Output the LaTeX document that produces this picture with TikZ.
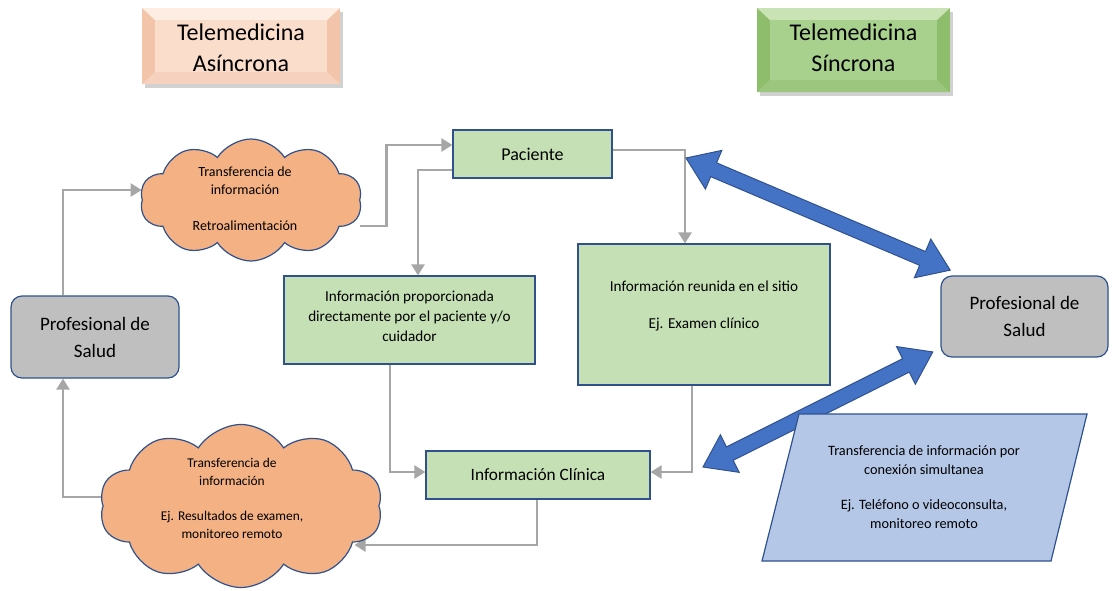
\documentclass[tikz,border=0pt]{standalone}
\usepackage{fontspec}
\setmainfont{Carlito}
\usetikzlibrary{shapes.symbols,shapes.geometric,arrows.meta,backgrounds}
\definecolor{bordblue}{HTML}{2F528F}
\definecolor{boxgreen}{HTML}{C5E0B4}
\definecolor{cloudor}{HTML}{F4B183}
\definecolor{profgray}{HTML}{BFBFBF}
\definecolor{parblue}{HTML}{B4C7E7}
\definecolor{bigblue}{HTML}{4472C4}
\definecolor{arrgray}{HTML}{A6A6A6}
\definecolor{peachS}{HTML}{F2C4AA}
\definecolor{peachT}{HTML}{FDEDE3}
\definecolor{peachB}{HTML}{F6D2BE}
\definecolor{peachC}{HTML}{FADDCB}
\definecolor{greenS}{HTML}{8EBD6C}
\definecolor{greenT}{HTML}{C9E3B5}
\definecolor{greenB}{HTML}{9CC67E}
\definecolor{greenC}{HTML}{A9D18E}
\tikzset{
  gbox/.style={draw=bordblue, line width=1.2pt, fill=boxgreen, rectangle, inner sep=0pt},
  prof/.style={draw=bordblue, line width=1.2pt, fill=profgray, rectangle, rounded corners=11pt, inner sep=0pt, align=center, font=\fontsize{19}{27}\selectfont},
  cloudbox/.style={draw=bordblue, line width=1.2pt, fill=cloudor, cloud, cloud puffs=10, cloud puff arc=115, cloud ignores aspect, inner sep=0pt},
  small/.style={align=center, font=\fontsize{14}{18}\selectfont, inner sep=0pt},
  titletext/.style={align=center, font=\fontsize{24}{31}\selectfont, inner sep=0pt},
  garrow/.style={draw=arrgray, line width=2.5pt, -{Triangle[length=11pt,width=13pt]}},
  bigarrow/.style={draw=bordblue, line width=1pt, fill=bigblue}
}
\begin{document}
\begin{tikzpicture}[x=1pt,y=-1pt]
\useasboundingbox (0,0) rectangle (1112,590);

% Title boxes
\fill[black!40, opacity=.45] (145,12) rectangle (343,88);
\fill[peachS] (142,8) rectangle (340,84);
\fill[peachT] (142,8) -- (340,8) -- (327,20) -- (155,20) -- cycle;
\fill[peachB] (142,84) -- (340,84) -- (327,72) -- (155,72) -- cycle;
\fill[peachC] (155,20) rectangle (327,72);
\node[titletext] (t1) at (241,48) {Telemedicina\\Asíncrona};

\fill[black!40, opacity=.45] (760,12) rectangle (953,96);
\fill[greenS] (757,8) rectangle (950,92);
\fill[greenT] (757,8) -- (950,8) -- (937,20) -- (770,20) -- cycle;
\fill[greenB] (757,92) -- (950,92) -- (937,80) -- (770,80) -- cycle;
\fill[greenC] (770,20) rectangle (937,80);
\node[titletext] (t2) at (853.5,48) {Telemedicina\\Síncrona};

% Nodes
\node[prof, minimum width=168pt, minimum height=82pt] (profL) at (95,337) {Profesional de\\Salud};
\node[prof, minimum width=167pt, minimum height=81pt] (profR) at (1024.5,316.5) {Profesional de\\Salud};
\node[gbox, minimum width=159pt, minimum height=48pt, font=\fontsize{18}{20}\selectfont] (pac) at (532.5,154) {Paciente};
\node[gbox, minimum width=251pt, minimum height=88pt] (infoP) at (409.5,320) {};
\node[small, font=\fontsize{15.2}{20}\selectfont] (infoPt) at (409.5,316) {Información proporcionada\\directamente por el paciente y/o\\cuidador};
\node[gbox, minimum width=252pt, minimum height=141pt] (infoR) at (704,314.5) {};
\node[small, font=\fontsize{15.2}{18.5}\selectfont] (infoRt) at (704,306.5) {Información reunida en el sitio\\[18.5pt]Ej. Examen clínico};
\node[gbox, minimum width=224pt, minimum height=48pt, font=\fontsize{17.3}{20}\selectfont] (ic) at (538,475) {Información Clínica};

\node[cloudbox, minimum width=222pt, minimum height=122pt] (cloud1) at (251,200) {};
\node[small] (c1t) at (245,199) {Transferencia de\\información\\[18pt]Retroalimentación};
\node[cloudbox, minimum width=283pt, minimum height=163pt] (cloud2) at (241,506) {};
\node[small, font=\fontsize{13.4}{18}\selectfont] (c2t) at (232,498) {Transferencia de\\información\\[17pt]Ej. Resultados de examen,\\monitoreo remoto};

% Big double arrows
\begin{scope}[shift={(686,158)}, rotate=-23]
\draw[bigarrow] (0,0) -- (30,21) -- (30,7.5) -- (257,7.5) -- (257,21) -- (287,0) -- (257,-21) -- (257,-7.5) -- (30,-7.5) -- (30,-21) -- cycle;
\end{scope}
\begin{scope}[shift={(703,467)}, rotate=26.6]
\draw[bigarrow] (0,0) -- (30,21) -- (30,7.5) -- (227,7.5) -- (227,21) -- (257,0) -- (227,-21) -- (227,-7.5) -- (30,-7.5) -- (30,-21) -- cycle;
\end{scope}

% Parallelogram
\coordinate (p1) at (799,414);
\coordinate (p2) at (1087,414);
\coordinate (p3) at (1051,561);
\coordinate (p4) at (762,561);
\draw[draw=bordblue, line width=1.2pt, fill=parblue] (p1) -- (p2) -- (p3) -- (p4) -- cycle;
\node[small, font=\fontsize{14.3}{19}\selectfont] (part) at (924,487) {Transferencia de información por\\conexión simultanea\\[16pt]Ej. Teléfono o videoconsulta,\\monitoreo remoto};

% Gray connectors
\begin{scope}[on background layer]
\draw[garrow] ([xshift=-32pt]profL.north) |- ([yshift=10pt]cloud1.west);
\draw[garrow] ([yshift=-26pt]cloud1.east) -- ++(26,0) |- ([yshift=9pt]pac.west);
\draw[garrow] ([yshift=-16pt]pac.west) -| ([xshift=8.5pt]infoP.north);
\draw[garrow] ([yshift=4pt]pac.east) -| ([xshift=-19pt]infoR.north);
\draw[garrow] ([xshift=-19.5pt]infoP.south) |- ([yshift=3pt]ic.west);
\draw[garrow] ([xshift=-12pt]infoR.south) |- ([yshift=3pt]ic.east);
\draw[garrow] ([xshift=-1pt]ic.south) |- ([xshift=-25pt,yshift=-39pt]cloud2.east);
\draw[garrow] ([yshift=9pt]cloud2.west) -| ([xshift=-32pt]profL.south);
\end{scope}
\end{tikzpicture}
\end{document}
